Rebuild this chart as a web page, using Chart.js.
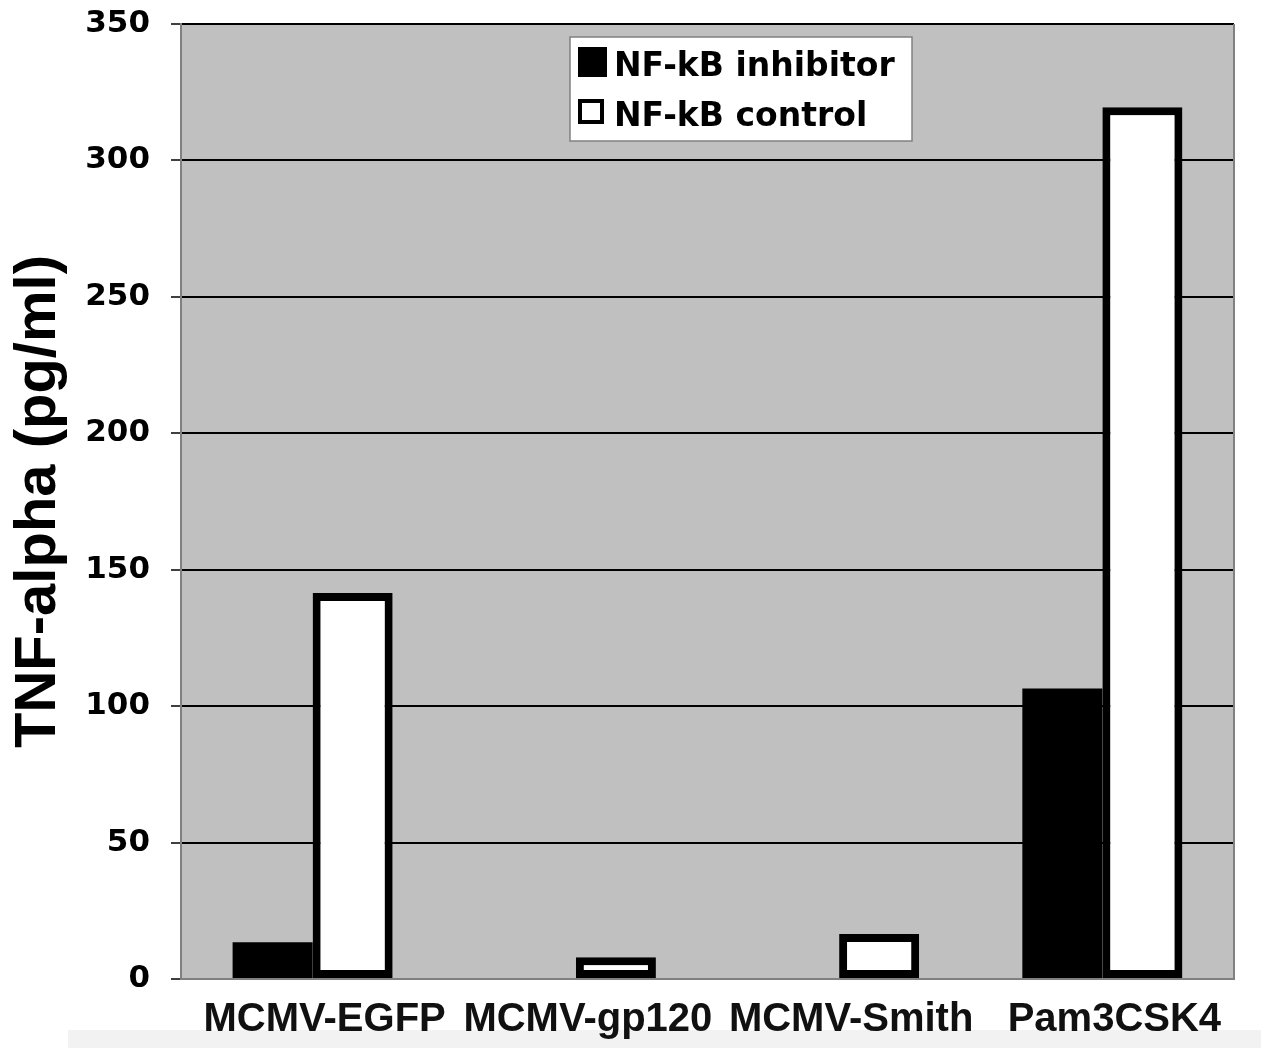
<!DOCTYPE html>
<html>
<head>
<meta charset="utf-8">
<title>TNF-alpha</title>
<script src="https://cdn.jsdelivr.net/npm/chart.js@4.4.0/dist/chart.umd.min.js"></script>
<style>
  html, body { margin: 0; padding: 0; background: #fff; }
  #wrap { position: relative; width: 1261px; height: 1048px; overflow: hidden; }
  #strip { position: absolute; left: 68px; top: 1030px; width: 1193px; height: 18px; background: #f2f2f2; }
  #chart { position: absolute; left: 0; top: 0; }
</style>
</head>
<body>
<div id="wrap">
  <div id="strip"></div>
  <canvas id="chart" width="1261" height="1048"></canvas>
</div>
<script>
// values
const categories = ['MCMV-EGFP', 'MCMV-gp120', 'MCMV-Smith', 'Pam3CSK4'];
const inhibitorValues = [13.5, 0, 0, 106.5];
const controlValues = [141.5, 8, 16.5, 319.5];
const seriesNames = ['NF-kB inhibitor', 'NF-kB control'];
const yMin = 0;
const yMax = 350;
const yStep = 50;

// gray plot background + right frame line
const plotFrame = {
    id: 'plotFrame',
    beforeDraw(chart) {
        const { ctx, chartArea: a } = chart;
        ctx.save();
        ctx.fillStyle = '#c0c0c0';
        ctx.fillRect(a.left, a.top, a.right - a.left, a.bottom - a.top);
        ctx.restore();
    },
    afterDraw(chart) {
        const { ctx, chartArea: a } = chart;
        ctx.save();
        ctx.strokeStyle = '#808080';
        ctx.lineWidth = 2;
        ctx.beginPath();
        ctx.moveTo(a.right, a.top);
        ctx.lineTo(a.right, a.bottom);
        ctx.stroke();
        ctx.restore();
    }
};

// boxed legend sitting inside the plot
const boxLegend = {
    id: 'boxLegend',
    afterDraw(chart) {
        const { ctx, chartArea: a } = chart;
        const x = a.left + 389;
        const y = a.top + 13;
        ctx.save();
        ctx.fillStyle = '#fff';
        ctx.fillRect(x, y, 342, 104);
        ctx.strokeStyle = '#808080';
        ctx.lineWidth = 1.5;
        ctx.strokeRect(x, y, 342, 104);

        ctx.font = 'bold 33px "DejaVu Sans"';
        ctx.textBaseline = 'alphabetic';
        chart.data.datasets.forEach((ds, i) => {
            const rowY = y + 10 + i * 50;
            if (i === 0) {
                ctx.fillStyle = ds.backgroundColor;
                ctx.fillRect(x + 8, rowY, 29, 30);
            } else {
                ctx.fillStyle = '#000';
                ctx.fillRect(x + 8, rowY + 2, 26, 25);
                ctx.fillStyle = '#fff';
                ctx.fillRect(x + 12, rowY + 6, 18, 17);
            }
            ctx.fillStyle = '#000';
            ctx.fillText(ds.label, x + 44, rowY + 29);
        });
        ctx.restore();
    }
};

const chart = new Chart(document.getElementById('chart'), {
    type: 'bar',
    data: {
        labels: categories,
        datasets: [
            {
                label: seriesNames[0],
                data: inhibitorValues,
                backgroundColor: '#000',
                borderWidth: 0,
                categoryPercentage: 0.608,
                barPercentage: 1.0
            },
            {
                label: seriesNames[1],
                data: controlValues,
                backgroundColor: '#fff',
                borderColor: '#000',
                borderWidth: 8,
                borderSkipped: false,
                categoryPercentage: 0.608,
                barPercentage: 1.0
            }
        ]
    },
    options: {
        responsive: false,
        animation: false,
        layout: {
            padding: { left: 0, right: 27, top: 24, bottom: 0 }
        },
        plugins: {
            legend: { display: false },
            tooltip: { enabled: false }
        },
        scales: {
            x: {
                grid: { display: false, drawTicks: false },
                border: { color: '#808080', width: 2 },
                ticks: {
                    color: '#111',
                    font: { family: '"Liberation Sans", Arial', weight: 'bold', size: 40 },
                    padding: 17,
                    labelOffset: 12,
                    maxRotation: 0,
                    autoSkip: false
                },
                afterFit(scale) {
                    scale.height = 69;
                }
            },
            y: {
                min: yMin,
                max: yMax,
                grid: {
                    color: ctx => ctx.tick && ctx.tick.value === 0 ? '#808080' : '#000',
                    lineWidth: 2,
                    tickLength: 10,
                    tickColor: '#000',
                    tickWidth: 1.5
                },
                border: { color: '#808080', width: 2 },
                ticks: {
                    stepSize: yStep,
                    color: '#000',
                    font: { family: '"DejaVu Sans"', weight: 'bold', size: 31 },
                    padding: 21
                },
                title: {
                    display: true,
                    text: 'TNF-alpha (pg/ml)',
                    color: '#000',
                    font: { family: '"Liberation Sans", Arial', weight: 'bold', size: 58 },
                    padding: { top: 4, bottom: 0 }
                },
                afterFit(scale) {
                    scale.width = 181;
                    // tick padding should not push the plot down
                    scale.paddingTop = 0;
                    scale.paddingBottom = 0;
                }
            }
        }
    },
    plugins: [plotFrame, boxLegend]
});
</script>
</body>
</html>
